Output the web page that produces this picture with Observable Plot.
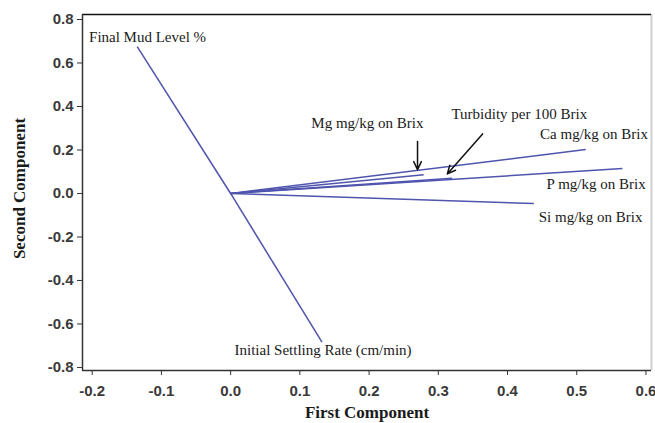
<!DOCTYPE html>
<html>
<head>
<meta charset="utf-8">
<script src="https://cdn.jsdelivr.net/npm/d3@7"></script>
<script src="https://cdn.jsdelivr.net/npm/@observablehq/plot@0.6"></script>
<style>
  html, body { margin: 0; padding: 0; background: #fff; }
  #chart svg { display: block; }
</style>
</head>
<body>
<div id="chart"></div>
<script>
// Loadings (first component, second component) of each variable
const variables = [
  "Final Mud Level %",
  "Initial Settling Rate (cm/min)",
  "Ca mg/kg on Brix",
  "P mg/kg on Brix",
  "Si mg/kg on Brix",
  "Mg mg/kg on Brix",
  "Turbidity per 100 Brix"
];
const firstComponent  = [-0.135, 0.132, 0.513, 0.566, 0.438, 0.279, 0.320];
const secondComponent = [ 0.675, -0.684, 0.202, 0.115, -0.046, 0.086, 0.070];

// Label anchor points (data units)
const labelX = [-0.120, 0.1335, 0.525, 0.528, 0.520, 0.1975, 0.417];
const labelY = [ 0.717, -0.722, 0.271, 0.041, -0.109, 0.322, 0.363];

// Pointer arrows (Mg, Turbidity)
const arrowNames = ["Mg mg/kg on Brix", "Turbidity per 100 Brix"];
const arrowX1 = [0.270, 0.364];
const arrowY1 = [0.239, 0.274];
const arrowX2 = [0.270, 0.313];
const arrowY2 = [0.109, 0.090];

const xTicks = [-0.2, -0.1, 0.0, 0.1, 0.2, 0.3, 0.4, 0.5, 0.6];
const yTicks = [-0.8, -0.6, -0.4, -0.2, 0.0, 0.2, 0.4, 0.6, 0.8];
const xDomain = [-0.214, 0.608];
const yDomain = [-0.814, 0.823];

const loadings = variables.map((name, i) => ({
  name, x: firstComponent[i], y: secondComponent[i], lx: labelX[i], ly: labelY[i]
}));
const arrows = arrowNames.map((name, i) => ({
  name, x1: arrowX1[i], y1: arrowY1[i], x2: arrowX2[i], y2: arrowY2[i]
}));

const serif = "'Liberation Serif', 'Times New Roman', serif";
const sans = "'Liberation Sans', Arial, sans-serif";
const fmt = d => d3.format(".1f")(d).replace("−", "-");

const chart = Plot.plot({
  width: 655,
  height: 423,
  marginLeft: 82,
  marginRight: 4,
  marginTop: 14,
  marginBottom: 53,
  style: { background: "#fff", color: "#333" },
  x: { domain: xDomain, ticks: xTicks },
  y: { domain: yDomain, ticks: yTicks },
  marks: [
    Plot.ruleX([xDomain[1]], { stroke: "#cfcfcf", strokeWidth: 2 }),
    Plot.ruleY([yDomain[1]], { stroke: "#111", strokeWidth: 1.5 }),
    Plot.ruleX([xDomain[0]], { stroke: "#333", strokeWidth: 1.5 }),
    Plot.ruleY([yDomain[0]], { stroke: "#333", strokeWidth: 1.5 }),
    Plot.axisX({
      ticks: xTicks, tickSize: 5, tickPadding: 10, label: null,
      tickFormat: fmt, fontSize: 15, fontFamily: sans, fontWeight: "bold", fill: "#3a3a3a", stroke: "#333"
    }),
    Plot.axisY({
      ticks: yTicks, tickSize: 5, tickPadding: 4, label: null,
      tickFormat: fmt, fontSize: 15, fontFamily: sans, fontWeight: "bold", fill: "#3a3a3a", stroke: "#333"
    }),
    Plot.link(loadings, {
      x1: () => 0, y1: () => 0, x2: "x", y2: "y",
      stroke: "#4f54ad", strokeWidth: 1.5
    }),
    Plot.arrow(arrows, {
      x1: "x1", y1: "y1", x2: "x2", y2: "y2",
      stroke: "#111", strokeWidth: 1.5, headLength: 9, headAngle: 50
    }),
    Plot.text(loadings, {
      x: "lx", y: "ly", text: "name",
      fontFamily: serif, fontSize: 15, fill: "#1a1a1a", textAnchor: "middle", lineAnchor: "middle"
    }),
    Plot.text(["Second Component"], {
      frameAnchor: "left", dx: -63, dy: -4, rotate: -90,
      textAnchor: "middle", lineAnchor: "middle",
      fontFamily: serif, fontWeight: "bold", fontSize: 17, fill: "#1a1a1a"
    }),
    Plot.text(["First Component"], {
      frameAnchor: "bottom", dy: 42,
      textAnchor: "middle", lineAnchor: "middle",
      fontFamily: serif, fontWeight: "bold", fontSize: 17, fill: "#1a1a1a"
    })
  ]
});
document.getElementById("chart").appendChild(chart);
</script>
</body>
</html>
